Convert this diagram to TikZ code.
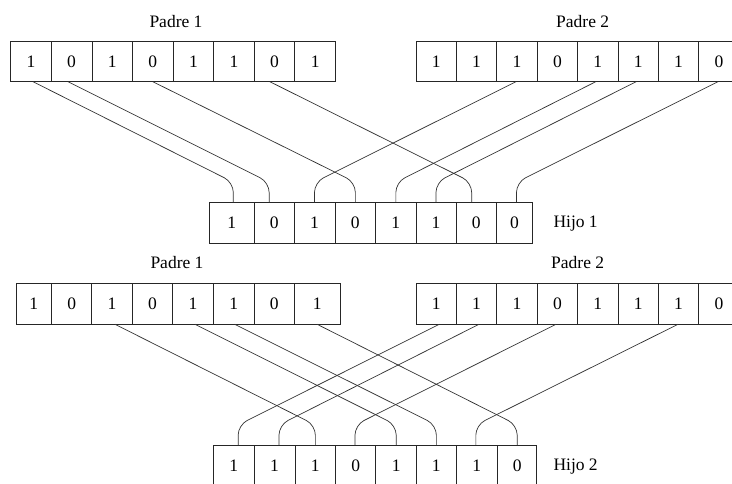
\documentclass[tikz,border=0pt]{standalone}
\usepackage{fontspec}
\setmainfont{Liberation Serif}
\tikzset{
  cellbox/.style={draw=black!85, line width=0.8pt, inner sep=0pt, outer sep=0pt,
    font=\fontsize{17.5}{20}\selectfont},
  link/.style={draw=black!80, line width=0.7pt, rounded corners=10pt},
  lbl/.style={inner sep=0pt, font=\fontsize{17.5}{20}\selectfont}
}
\newcommand\mkcell[6]{\node[cellbox, minimum width={#3pt-#2pt}, minimum height={#5pt-#4pt}] (#1) at ({(#2+#3)/2},{(#4+#5)/2}) {#6};}
\newcommand\conn[4]{\draw[link] ([xshift=#2pt]#1.south) -- ([xshift=#4pt,yshift=20pt]#3.north) -- ([xshift=#4pt]#3.north);}
\begin{document}
\begin{tikzpicture}[x=1pt,y=-1pt]
\useasboundingbox (0,0) rectangle (732,484);
\fill[white] (0,0) rectangle (732,484);
\clip (0,0) rectangle (732,484);
% top parents
\foreach \i/\l/\r/\d in {1/10.7/51.3/1,2/51.3/91.9/0,3/91.9/132.5/1,4/132.5/173.1/0,5/173.1/213.7/1,6/213.7/254.3/1,7/254.3/294.6/0,8/294.6/335.7/1}
  {\mkcell{pa\i}{\l}{\r}{41.5}{81.7}{\d}}
\foreach \i/\l/\r/\d in {1/416/456.4/1,2/456.4/496.8/1,3/496.8/537.2/1,4/537.2/577.6/0,5/577.6/618/1,6/618/658.4/1,7/658.4/698.8/1,8/698.8/739.2/0}
  {\mkcell{pb\i}{\l}{\r}{41.5}{81.7}{\d}}
% child 1
\foreach \i/\l/\r/\d in {1/209.3/254.3/1,2/254.3/294/0,3/294/335/1,4/335/375.7/0,5/375.7/416/1,6/416/456/1,7/456/496.7/0,8/496.7/532.3/0}
  {\mkcell{ha\i}{\l}{\r}{202.3}{243.3}{\d}}
% bottom parents
\foreach \i/\l/\r/\d in {1/16/51.7/1,2/51.7/91.7/0,3/91.7/132.3/1,4/132.3/172.7/0,5/172.7/213.3/1,6/213.3/254/1,7/254/294.3/0,8/294.3/340/1}
  {\mkcell{pc\i}{\l}{\r}{283.3}{324.3}{\d}}
\foreach \i/\l/\r/\d in {1/416/456.4/1,2/456.4/496.8/1,3/496.8/537.2/1,4/537.2/577.6/0,5/577.6/618/1,6/618/658.4/1,7/658.4/698.8/1,8/698.8/739.2/0}
  {\mkcell{pd\i}{\l}{\r}{283.3}{324.3}{\d}}
% child 2
\foreach \i/\l/\r/\d in {1/213.3/254/1,2/254/295/1,3/295/335.7/1,4/335.7/375.7/0,5/375.7/416.7/1,6/416.7/456/1,7/456/497.7/1,8/497.7/536.7/0}
  {\mkcell{hb\i}{\l}{\r}{445}{486}{\d}}
% labels
\node[lbl, anchor=base] (lp1a) at (176,27.3) {Padre 1};
\node[lbl, anchor=base] (lp2a) at (582.7,27.3) {Padre 2};
\node[lbl, anchor=base west] (lh1) at (553.3,227.7) {Hijo 1};
\node[lbl, anchor=base] (lp1b) at (177,269) {Padre 1};
\node[lbl, anchor=base] (lp2b) at (577.7,269) {Padre 2};
\node[lbl, anchor=base west] (lh2) at (553.3,470) {Hijo 2};
% connectors child 1
\conn{pa1}{2}{ha1}{1.5}
\conn{pa2}{-3.6}{ha2}{-5}
\conn{pa4}{0}{ha4}{0}
\conn{pa7}{-4.6}{ha7}{-4.7}
\conn{pb3}{-1}{ha3}{0}
\conn{pb5}{-2}{ha5}{0}
\conn{pb6}{-2}{ha6}{0}
\conn{pb8}{-1}{ha8}{2}
% connectors child 2
\conn{pc3}{3}{hb3}{0}
\conn{pc5}{2}{hb5}{0}
\conn{pc6}{1}{hb6}{0}
\conn{pc8}{0}{hb8}{0}
\conn{pd1}{3}{hb1}{4.5}
\conn{pd2}{2.4}{hb2}{4.5}
\conn{pd4}{-1.4}{hb4}{-0.7}
\conn{pd7}{-0.6}{hb7}{-1}
\end{tikzpicture}
\end{document}
